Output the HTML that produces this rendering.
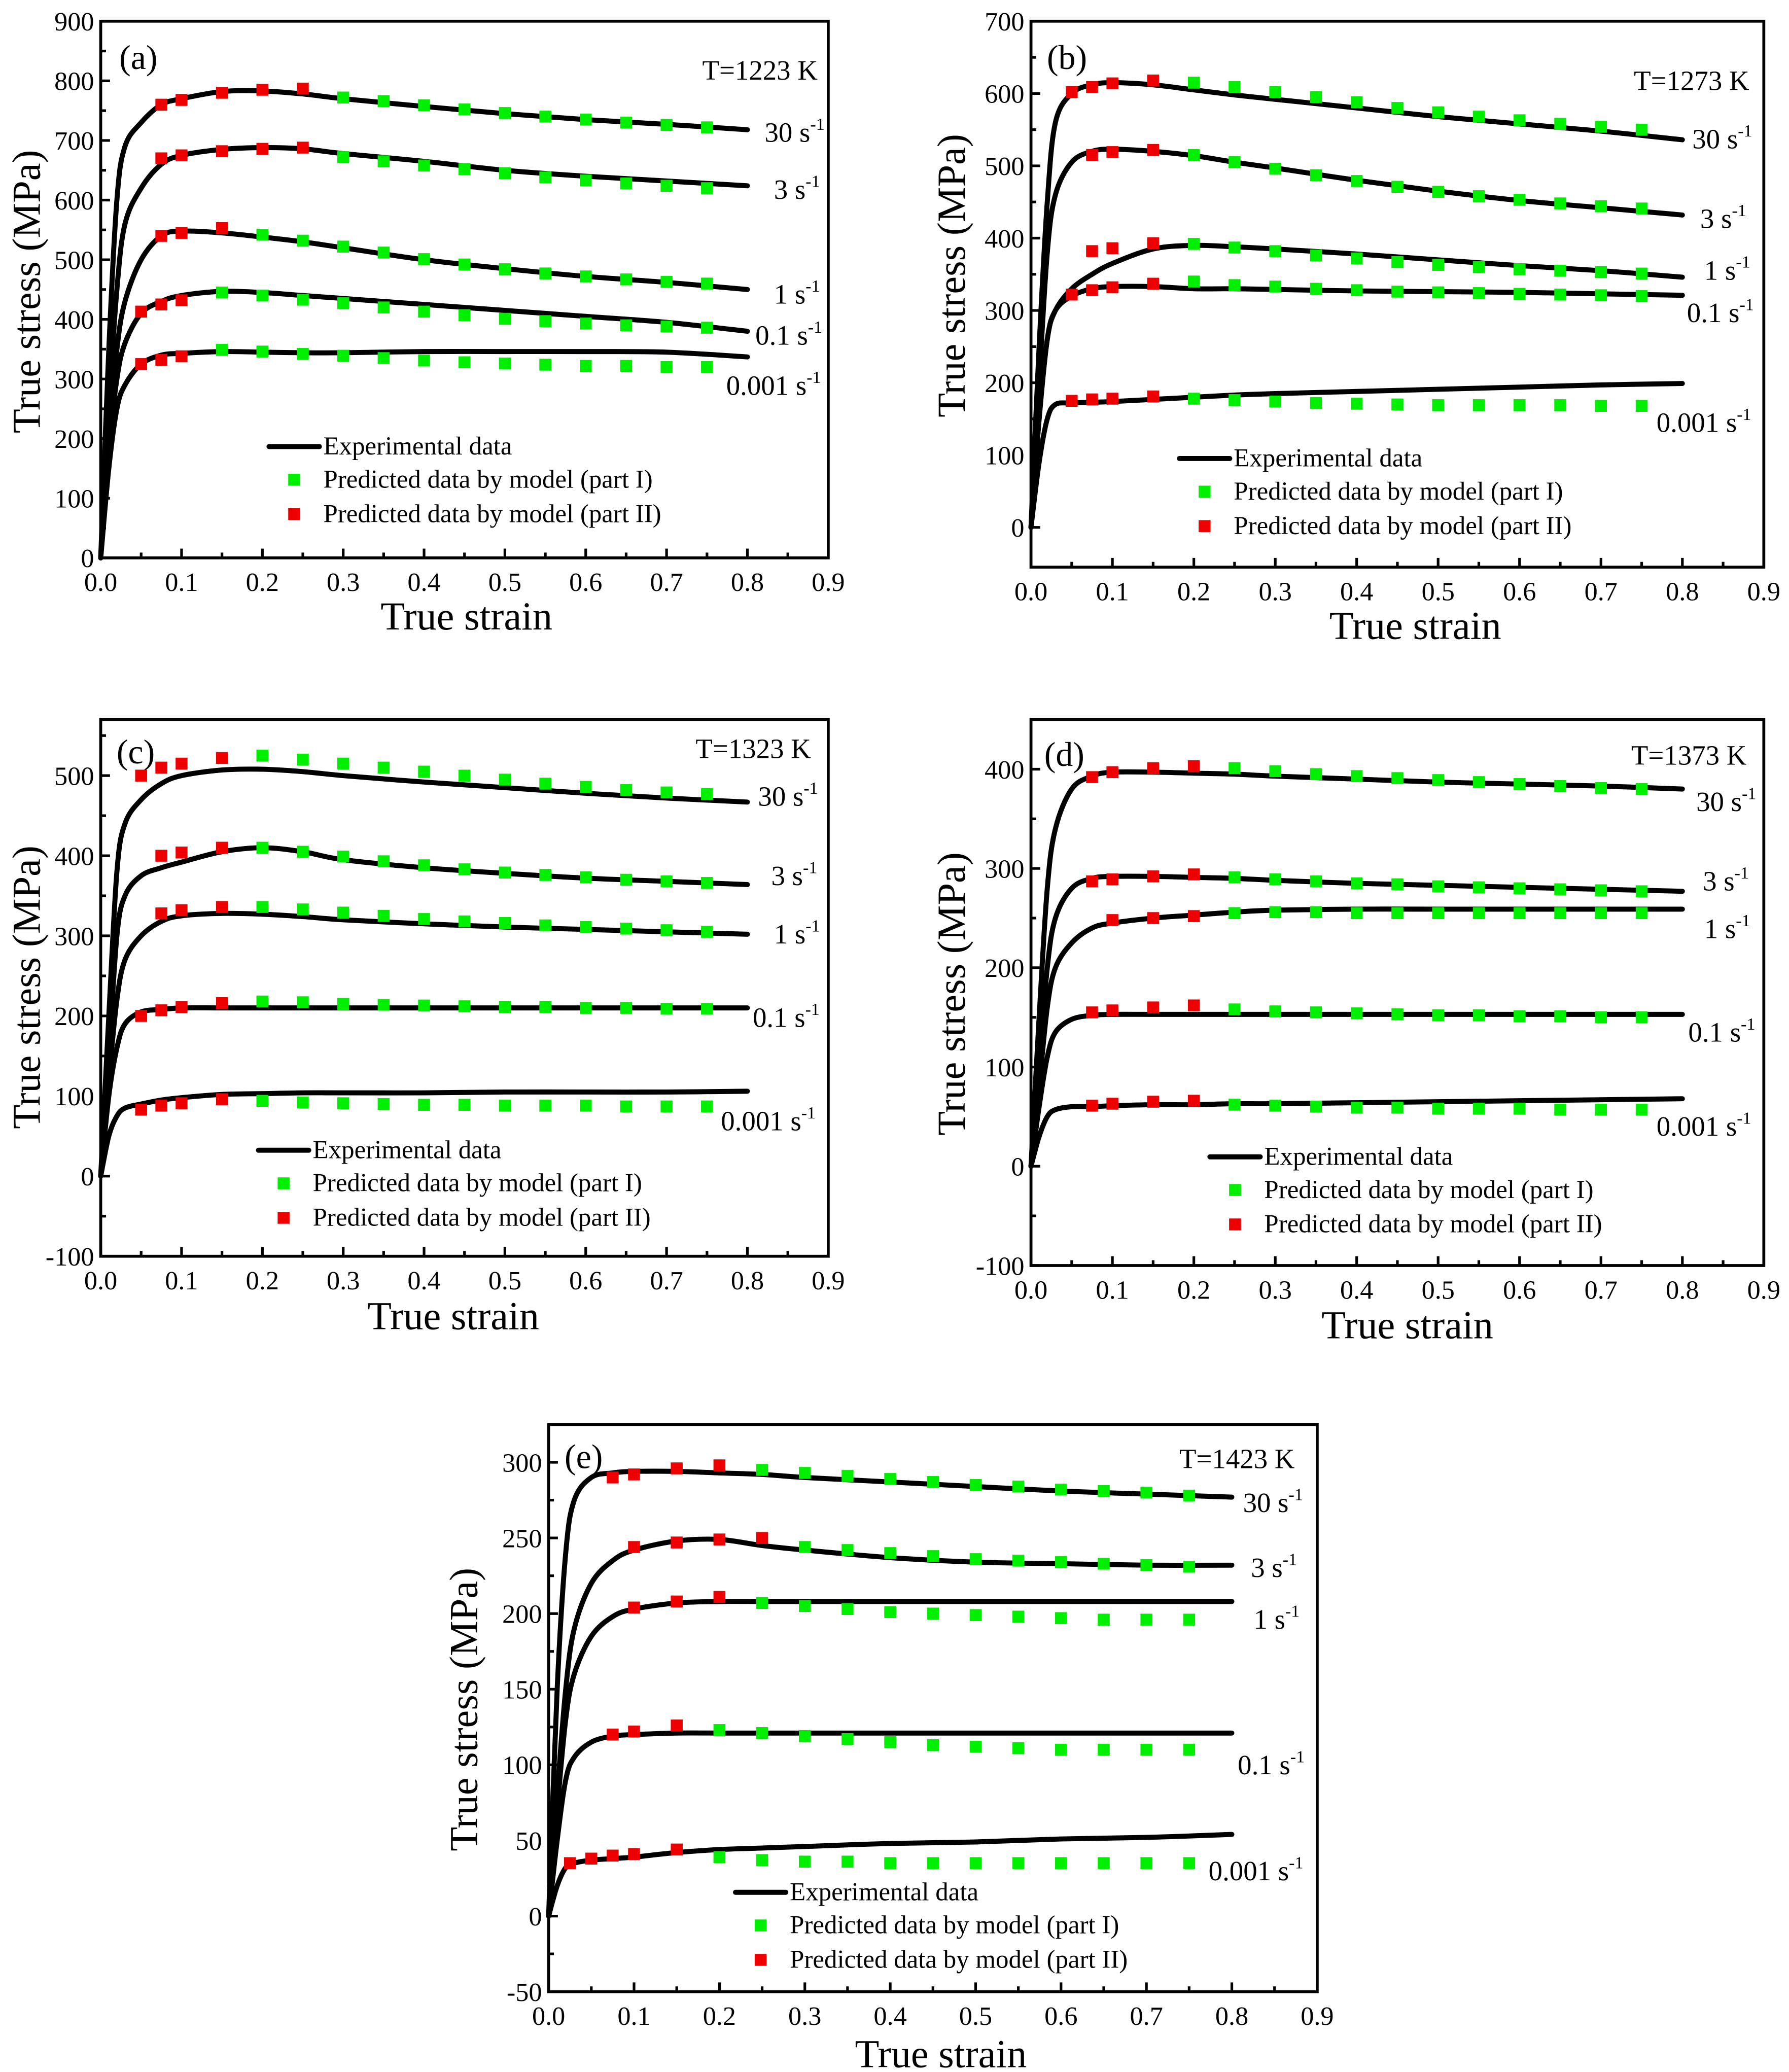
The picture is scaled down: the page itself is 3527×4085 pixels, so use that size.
<!DOCTYPE html>
<html><head><meta charset="utf-8"><style>
html,body{margin:0;padding:0;background:#fff}
svg{display:block}
text{font-family:"Liberation Serif",serif;fill:#000}
</style></head><body>
<svg id="fig" width="3527" height="4085" viewBox="0 0 1350 1563.6" xmlns="http://www.w3.org/2000/svg"></svg>
<script>
// shared strain grid for experimental curves
const curveStrain = [0,0.01,0.02,0.03,0.05,0.075,0.1,0.15,0.2,0.25,0.3,0.4,0.5,0.6,0.7,0.8];
const rateLabels = ["30","3","1","0.1","0.001"];
const xTicks = [0,0.1,0.2,0.3,0.4,0.5,0.6,0.7,0.8,0.9];

// Panel a (T=1223 K)
const aCurves = [
 [0,350,600,690,730,760,770,782,783,778,770,757,745,735,727,718],
 [0,250,450,560,620,660,675,685,688,686,678,665,650,640,632,624],
 [0,200,350,430,500,540,548,545,538,530,520,500,485,472,462,450],
 [0,180,300,360,410,430,440,447,445,440,435,425,415,405,395,380],
 [0,150,250,290,325,340,343,346,345,344,344,346,346,346,345,337]];
const aRedX = [[0.075,0.1,0.15,0.2,0.25],[0.075,0.1,0.15,0.2,0.25],[0.075,0.1,0.15],[0.05,0.075,0.1],[0.05,0.075,0.1]];
const aRedY = [[760,768,780,785,787],[670,675,682,686,688],[540,545,553],[413,425,432],[325,332,338]];
const aGreenX = [[0.3,0.35,0.4,0.45,0.5,0.55,0.6,0.65,0.7,0.75],[0.3,0.35,0.4,0.45,0.5,0.55,0.6,0.65,0.7,0.75],[0.2,0.25,0.3,0.35,0.4,0.45,0.5,0.55,0.6,0.65,0.7,0.75],[0.15,0.2,0.25,0.3,0.35,0.4,0.45,0.5,0.55,0.6,0.65,0.7,0.75],[0.15,0.2,0.25,0.3,0.35,0.4,0.45,0.5,0.55,0.6,0.65,0.7,0.75]];
const aGreenY = [[772,766,759,752,746,740,735,730,726,722],[672,665,658,652,645,638,633,628,624,620],[542,532,522,512,501,492,484,477,472,467,463,460],[445,440,433,427,420,413,407,401,397,393,390,388,386],[349,346,342,339,335,331,328,326,324,322,322,320,320]];
const aYTicks = [0,100,200,300,400,500,600,700,800,900];

// Panel b (T=1273 K)
const bCurves = [
 [0,250,450,560,600,612,615,612,605,598,592,580,568,558,548,536],
 [0,200,380,460,505,520,523,520,514,505,497,480,465,452,442,432],
 [0,150,260,300,330,350,365,385,390,388,385,378,370,362,355,346],
 [0,150,260,300,320,330,333,333,330,330,329,327,326,325,323,321],
 [0,90,150,170,172,173,174,177,180,183,185,188,191,194,197,199]];
const gB = [0.2,0.25,0.3,0.35,0.4,0.45,0.5,0.55,0.6,0.65,0.7,0.75];
const bRedX = [[0.05,0.075,0.1,0.15],[0.075,0.1,0.15],[0.075,0.1,0.15],[0.05,0.075,0.1,0.15],[0.05,0.075,0.1,0.15]];
const bRedY = [[602,609,614,618],[515,519,522],[382,386,393],[322,328,332,337],[175,177,178,181]];
const bGreenX = [gB,gB,gB,gB,gB];
const bGreenY = [[615,609,602,595,588,580,574,568,563,558,554,550],[515,505,496,487,479,471,464,458,453,448,444,441],[392,387,382,376,372,367,363,360,357,355,353,351],[340,335,333,330,328,326,325,324,323,322,321,320],[178,176,174,172,171,170,169,169,169,169,168,168]];
const bYTicks = [0,100,200,300,400,500,600,700];

// Panel c (T=1323 K)
const cCurves = [
 [0,200,380,440,470,490,500,507,508,505,500,492,485,478,472,467],
 [0,150,300,350,375,385,392,405,410,405,395,385,378,372,368,364],
 [0,120,220,270,300,318,325,328,327,324,320,315,311,308,305,302],
 [0,100,160,190,205,208,210,210,210,210,210,210,210,210,210,210],
 [0,50,75,85,90,95,98,102,103,104,104,104,105,105,105,106]];
const cRedX = [[0.05,0.075,0.1,0.15],[0.075,0.1,0.15],[0.075,0.1,0.15],[0.05,0.075,0.1,0.15],[0.05,0.075,0.1,0.15]];
const cRedY = [[500,510,515,522],[400,404,410],[328,332,336],[200,207,211,216],[83,88,91,96]];
const cGreenX = [gB,gB,gB,gB,gB];
const cGreenY = [[525,520,515,510,505,500,495,490,486,482,479,477],[410,405,399,393,388,383,379,376,373,370,368,366],[336,333,329,325,321,318,316,313,311,309,307,305],[218,217,215,214,213,212,211,211,210,210,209,209],[94,92,91,90,89,89,88,88,88,87,87,87]];
const cYTicks = [-100,0,100,200,300,400,500];

// Panel d (T=1373 K)
const dCurves = [
 [0,150,280,340,380,393,397,397,396,395,393,390,387,385,383,380],
 [0,100,200,250,280,290,292,292,291,290,288,285,283,281,279,277],
 [0,80,160,200,225,240,245,250,253,256,258,259,259,259,259,259],
 [0,60,110,135,148,152,153,153,153,153,153,153,153,153,153,153],
 [0,30,50,57,60,60,61,62,62,63,63,64,65,66,67,68]];
const gD = [0.25,0.3,0.35,0.4,0.45,0.5,0.55,0.6,0.65,0.7,0.75];
const dRedX = [[0.075,0.1,0.15,0.2],[0.075,0.1,0.15,0.2],[0.1,0.15,0.2],[0.075,0.1,0.15,0.2],[0.075,0.1,0.15,0.2]];
const dRedY = [[392,397,401,403],[287,289,292,294],[248,250,252],[155,157,160,162],[61,63,65,66]];
const dGreenX = [gD,gD,gD,gD,gD];
const dGreenY = [[401,398,395,393,391,389,387,385,383,381,380],[291,289,287,285,284,282,281,280,279,278,277],[255,256,256,255,255,255,255,255,255,255,255],[158,156,155,154,153,152,152,151,151,150,150],[62,61,60,59,59,58,58,58,57,57,57]];
const dYTicks = [-100,0,100,200,300,400];

// Panel e (T=1423 K)
const eCurves = [
 [0,150,240,275,290,293,294,294,293,292,290,287,284,281,279,277],
 [0,80,150,190,220,235,242,248,249,245,242,237,234,233,232,232],
 [0,70,130,160,185,198,203,207,208,208,208,208,208,208,208,208],
 [0,50,90,105,115,119,120,121,121,121,121,121,121,121,121,121],
 [0,20,32,35,37,38,39,42,44,45,46,48,49,51,52,54]];
const eRedX = [[0.075,0.1,0.15,0.2],[0.1,0.15,0.2,0.25],[0.1,0.15,0.2],[0.075,0.1,0.15],[0.025,0.05,0.075,0.1,0.15]];
const eRedY = [[290,292,296,298],[244,247,249,250],[204,208,211],[120,122,126],[35,38,40,41,44]];
const eGreenX = [[0.25,0.3,0.35,0.4,0.45,0.5,0.55,0.6,0.65,0.7,0.75],[0.3,0.35,0.4,0.45,0.5,0.55,0.6,0.65,0.7,0.75],gD,gB,gB];
const eGreenY = [[295,293,291,289,287,285,284,282,281,280,278],[244,242,240,238,236,235,234,233,232,231],[207,205,203,201,200,199,198,197,196,196,196],[123,121,119,117,115,113,112,111,110,110,110,110],[39,37,36,36,35,35,35,35,35,35,35,35]];
const eYTicks = [-50,0,50,100,150,200,250,300];

const panels = [
 {id:"a",temp:"T=1223 K",x0:76,x1:625,yTop:16,yBot:421,vMin:0,vMax:900,yTicks:aYTicks,curves:aCurves,redX:aRedX,redY:aRedY,greenX:aGreenX,greenY:aGreenY,
  lab:[[577,107],[584,150],[584,229],[570,260],[548,298]],letter:[90,52],tpos:[617,60],leg:[203,337],ytitle:[30,220],xtitle:[352,475]},
 {id:"b",temp:"T=1273 K",x0:778,x1:1331,yTop:16,yBot:428,vMin:-55,vMax:700,yTicks:bYTicks,curves:bCurves,redX:bRedX,redY:bRedY,greenX:bGreenX,greenY:bGreenY,
  lab:[[1277,112],[1283,172],[1286,211],[1273,243],[1250,326]],letter:[790,52],tpos:[1320,68],leg:[890,346],ytitle:[728,208],xtitle:[1068,482]},
 {id:"c",temp:"T=1323 K",x0:76,x1:625,yTop:543,yBot:948,vMin:-100,vMax:570,yTicks:cYTicks,curves:cCurves,redX:cRedX,redY:cRedY,greenX:cGreenX,greenY:cGreenY,
  lab:[[572,608],[582,668],[584,712],[568,775],[544,853]],letter:[88,576],tpos:[612,572],leg:[195,868],ytitle:[30,745],xtitle:[342,1003]},
 {id:"d",temp:"T=1373 K",x0:778,x1:1331,yTop:543,yBot:955,vMin:-100,vMax:450,yTicks:dYTicks,curves:dCurves,redX:dRedX,redY:dRedY,greenX:dGreenX,greenY:dGreenY,
  lab:[[1280,612],[1285,672],[1286,708],[1274,786],[1250,857]],letter:[788,578],tpos:[1318,577],leg:[913,873],ytitle:[728,750],xtitle:[1062,1010]},
 {id:"e",temp:"T=1423 K",x0:414,x1:994,yTop:1075,yBot:1503,vMin:-50,vMax:325,yTicks:eYTicks,curves:eCurves,redX:eRedX,redY:eRedY,greenX:eGreenX,greenY:eGreenY,
  lab:[[938,1141],[944,1190],[946,1229],[934,1339],[912,1419]],letter:[426,1108],tpos:[977,1108],leg:[555,1428],ytitle:[360,1290],xtitle:[710,1560]}
];

const NS="http://www.w3.org/2000/svg";
const svg=document.getElementById('fig');
function mk(tag,attrs,parent){const e=document.createElementNS(NS,tag);for(const k in attrs)e.setAttribute(k,attrs[k]);(parent||svg).appendChild(e);return e;}
function smooth(pts){let d="M"+pts[0][0].toFixed(2)+","+pts[0][1].toFixed(2);
 for(let i=0;i<pts.length-1;i++){const p0=pts[Math.max(i-1,0)],p1=pts[i],p2=pts[i+1],p3=pts[Math.min(i+2,pts.length-1)];
  const c1=[p1[0]+(p2[0]-p0[0])/6,p1[1]+(p2[1]-p0[1])/6],c2=[p2[0]-(p3[0]-p1[0])/6,p2[1]-(p3[1]-p1[1])/6];
  d+=" C"+c1.map(v=>v.toFixed(2))+" "+c2.map(v=>v.toFixed(2))+" "+p2[0].toFixed(2)+","+p2[1].toFixed(2);}
 return d;}

panels.forEach(p=>{
 const g=mk('g',{});
 
 
 const X=v=>p.x0+(v-0)/(0.9)*(p.x1-p.x0);
 const Y=v=>p.yBot-(v-p.vMin)/(p.vMax-p.vMin)*(p.yBot-p.yTop);
 const fr=mk('rect',{x:p.x0,y:p.yTop,width:p.x1-p.x0,height:p.yBot-p.yTop,fill:'none',stroke:'#000','stroke-width':2.2},g);
 
 
 xTicks.forEach((t,i)=>{
  mk('line',{x1:X(t),x2:X(t),y1:p.yBot,y2:p.yBot-7,stroke:'#000','stroke-width':2},g);
  if(i<xTicks.length-1) mk('line',{x1:X(t+0.05),x2:X(t+0.05),y1:p.yBot,y2:p.yBot-4,stroke:'#000','stroke-width':2},g);
  const tl=mk('text',{x:X(t),y:p.yBot+25,'font-size':20,'text-anchor':'middle'},g);
  tl.textContent=t.toFixed(1);
  
  
 });
 const step=p.yTicks[1]-p.yTicks[0];
 p.yTicks.forEach(t=>{
  mk('line',{x1:p.x0,x2:p.x0+7,y1:Y(t),y2:Y(t),stroke:'#000','stroke-width':2},g);
  if(Y(t+step/2)>p.yTop) mk('line',{x1:p.x0,x2:p.x0+4,y1:Y(t+step/2),y2:Y(t+step/2),stroke:'#000','stroke-width':2},g);
  const tl=mk('text',{x:p.x0-5,y:Y(t)+7,'font-size':20,'text-anchor':'end'},g);
  tl.textContent=String(t);
  
  
 });
 const yt=mk('text',{x:p.ytitle[0],y:p.ytitle[1],'font-size':30,'text-anchor':'middle',transform:`rotate(-90 ${p.ytitle[0]} ${p.ytitle[1]})`},g);
 yt.textContent='True stress (MPa)';
 
 
 const xt=mk('text',{x:p.xtitle[0],y:p.xtitle[1],'font-size':30,'text-anchor':'middle'},g);
 xt.textContent='True strain';
 
 
 const lt=mk('text',{x:p.letter[0],y:p.letter[1],'font-size':26},g);
 lt.textContent='('+p.id+')';
 
 
 const tt=mk('text',{x:p.tpos[0],y:p.tpos[1],'font-size':21,'text-anchor':'end'},g);
 tt.textContent=p.temp;
 
 
 p.curves.forEach((c,k)=>{
  const pts=curveStrain.map((s,i)=>[X(s),Y(c[i])]);
  const path=mk('path',{d:smooth(pts),fill:'none',stroke:'#000','stroke-width':3.8,'stroke-linecap':'round'},g);
  
  
  const rl=mk('text',{x:p.lab[k][0],y:p.lab[k][1],'font-size':21},g);
  
  
  rl.innerHTML=rateLabels[k]+' s<tspan dy="-9" font-size="13">-1</tspan>';
 });
 const sq=9;
 p.greenX.forEach((xs,k)=>xs.forEach((s,i)=>{
  const r=mk('rect',{x:X(s)-sq/2,y:Y(p.greenY[k][i])-sq/2,width:sq,height:sq,fill:'#00ee00'},g);
  
  
 }));
 p.redX.forEach((xs,k)=>xs.forEach((s,i)=>{
  const r=mk('rect',{x:X(s)-sq/2,y:Y(p.redY[k][i])-sq/2,width:sq,height:sq,fill:'#ee0000'},g);
  
  
 }));
 const lg=mk('g',{},g);
 
 
 const lx=p.leg[0],ly=p.leg[1];
 mk('line',{x1:lx,x2:lx+38,y1:ly,y2:ly,stroke:'#000','stroke-width':3.8,'stroke-linecap':'round'},lg);
 const t1=mk('text',{x:lx+41,y:ly+6,'font-size':19.5},lg);t1.textContent='Experimental data';
 
 
 mk('rect',{x:lx+19-sq/2,y:ly+25-sq/2,width:sq,height:sq,fill:'#00ee00'},lg);
 const t2=mk('text',{x:lx+41,y:ly+31,'font-size':19.5},lg);t2.textContent='Predicted data by model (part I)';
 
 
 mk('rect',{x:lx+19-sq/2,y:ly+51-sq/2,width:sq,height:sq,fill:'#ee0000'},lg);
 const t3=mk('text',{x:lx+41,y:ly+57,'font-size':19.5},lg);t3.textContent='Predicted data by model (part II)';
 
 
});
</script>
</body></html>
